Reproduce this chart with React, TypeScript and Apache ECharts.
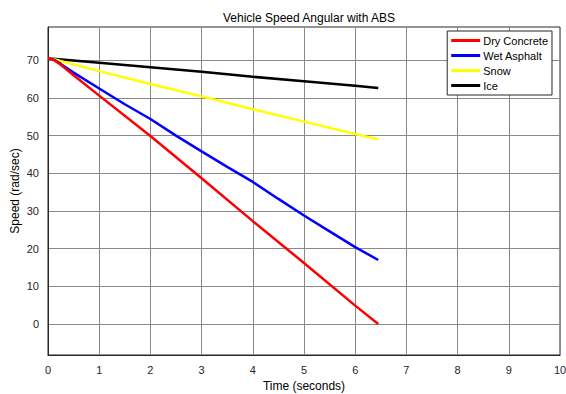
import React, { useEffect, useRef } from "react";
import * as echarts from "echarts";

const seriesNames = ["Dry Concrete", "Wet Asphalt", "Snow", "Ice"];
const seriesColors = ["#ff0000", "#0000ff", "#ffff00", "#000000"];

const tDry = [0, 0.1, 0.25, 0.5, 1, 2, 3, 4, 5, 6, 6.45];
const dry = [70.5, 70.2, 68.8, 66.0, 60.6, 49.9, 38.7, 27.3, 16.2, 4.9, 0];

const tWet = [0, 0.1, 0.25, 0.5, 1, 1.5, 2, 2.5, 3, 3.5, 4, 4.5, 5, 5.5, 6, 6.45];
const wet = [70.5, 70.2, 69.0, 66.7, 62.5, 58.3, 54.4, 50.0, 45.8, 41.7, 37.7, 33.2, 28.8, 24.6, 20.4, 17];

const tSnow = [0, 0.1, 1, 2, 3, 4, 5, 6, 6.45];
const snow = [70.5, 70.3, 67.1, 63.7, 60.4, 57.0, 53.7, 50.4, 49];

const tIce = [0, 0.1, 1, 2, 3, 4, 5, 6, 6.45];
const ice = [70.5, 70.4, 69.3, 68.1, 66.9, 65.6, 64.4, 63.2, 62.6];

const yTicks = [0, 10, 20, 30, 40, 50, 60, 70];
const yMin = -8.2;
const yMax = 78.8;

const FONT = "'Liberation Sans', Arial, Helvetica, sans-serif";

function pairs(t: number[], v: number[]) {
  return t.map((x, i) => [x, v[i]]);
}

export default function App() {
  const ref = useRef<HTMLDivElement>(null);
  useEffect(() => {
    if (!ref.current) return;
    const chart = echarts.init(ref.current, undefined, { renderer: "svg" });
    const dataSets = [pairs(tDry, dry), pairs(tWet, wet), pairs(tSnow, snow), pairs(tIce, ice)];
    chart.setOption({
      animation: false,
      backgroundColor: "#ffffff",
      title: {
        text: "Vehicle Speed Angular with ABS",
        left: 304,
        textAlign: "center",
        top: 7,
        textStyle: { fontFamily: FONT, fontSize: 12, fontWeight: "normal", color: "#000" },
      },
      legend: {
        orient: "vertical",
        right: 14,
        top: 31,
        data: seriesNames.map((n) => ({ name: n, icon: "rect" })),
        itemWidth: 29,
        itemHeight: 3,
        itemGap: 4,
        padding: [4, 4, 4, 4],
        borderColor: "#262626",
        borderWidth: 1,
        backgroundColor: "#ffffff",
        textStyle: { fontFamily: FONT, fontSize: 11, color: "#000", padding: [0, 0, 0, -2] },
      },
      grid: {
        left: 48,
        right: 6,
        top: 27,
        bottom: 39,
        show: true,
        borderColor: "#262626",
        borderWidth: 1,
        backgroundColor: "#ffffff",
        containLabel: false,
        outerBoundsMode: "none",
      },
      xAxis: {
        type: "value",
        min: 0,
        max: 10,
        interval: 1,
        name: "Time (seconds)",
        nameLocation: "middle",
        nameGap: 24,
        nameTextStyle: { fontFamily: FONT, fontSize: 12, color: "#000" },
        axisLine: { show: true, onZero: false, lineStyle: { color: "#262626" } },
        axisTick: { show: false },
        axisLabel: { fontFamily: FONT, fontSize: 11, color: "#262626", margin: 9 },
        splitLine: { show: true, lineStyle: { color: "#8a8a8a", width: 1 } },
      },
      yAxis: {
        type: "value",
        min: yMin,
        max: yMax,
        name: "Speed (rad/sec)",
        nameLocation: "middle",
        nameGap: 27,
        nameMoveOverlap: false,
        nameTextStyle: { fontFamily: FONT, fontSize: 12, color: "#000" },
        axisLine: { show: true, onZero: false, lineStyle: { color: "#262626" } },
        axisTick: { show: false, customValues: yTicks },
        axisLabel: { fontFamily: FONT, fontSize: 11, color: "#262626", margin: 9, customValues: yTicks },
        splitLine: { show: true, lineStyle: { color: "#8a8a8a", width: 1 } },
      },
      series: seriesNames.map((name, i) => ({
        name,
        type: "line",
        data: dataSets[i],
        showSymbol: false,
        symbol: "none",
        color: seriesColors[i],
        lineStyle: { color: seriesColors[i], width: 2.5 },
        z: 10 - i,
      })),
    });
    return () => chart.dispose();
  }, []);
  return (
    <div
      ref={ref}
      style={{ position: "absolute", left: 0, top: 0, width: 566, height: 394 }}
    />
  );
}
